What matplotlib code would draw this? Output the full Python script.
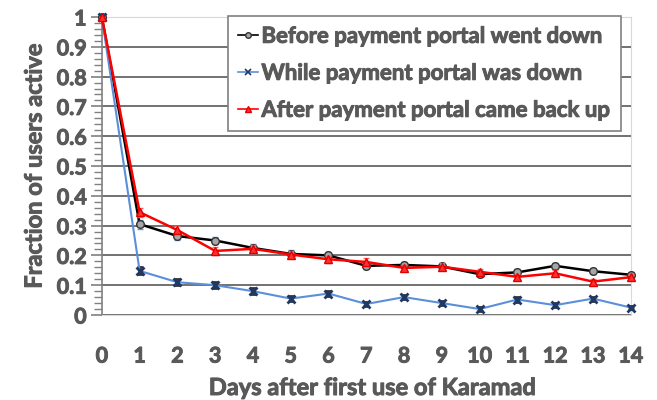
import numpy as np
import matplotlib.pyplot as plt
import matplotlib.patheffects as pe
from matplotlib.ticker import MultipleLocator, FuncFormatter
from matplotlib.lines import Line2D

plt.rcParams['font.family'] = ['Lato', 'DejaVu Sans']

days = list(range(15))
before = [1.0, 0.305, 0.265, 0.25, 0.225, 0.205, 0.2, 0.165, 0.168, 0.163, 0.137, 0.143, 0.165, 0.147, 0.135]
while_down = [1.0, 0.148, 0.11, 0.1, 0.08, 0.055, 0.072, 0.037, 0.06, 0.04, 0.02, 0.052, 0.033, 0.055, 0.025]
after = [1.0, 0.345, 0.285, 0.215, 0.222, 0.203, 0.187, 0.178, 0.158, 0.162, 0.145, 0.128, 0.14, 0.112, 0.127]
err_before = [0.0, 0.015, 0.013, 0.013, 0.012, 0.012, 0.012, 0.011, 0.011, 0.011, 0.01, 0.01, 0.01, 0.01, 0.01]
err_while = [0.0, 0.012, 0.011, 0.01, 0.009, 0.008, 0.008, 0.007, 0.007, 0.007, 0.006, 0.007, 0.006, 0.007, 0.006]
err_after = [0.0, 0.015, 0.014, 0.013, 0.013, 0.012, 0.012, 0.012, 0.011, 0.011, 0.011, 0.01, 0.01, 0.01, 0.01]
labels = ['Before payment portal went down', 'While payment portal was down',
          'After payment portal came back up']

txt = '#595959'
thick = [pe.withStroke(linewidth=0.7, foreground=txt)]

fig = plt.figure(figsize=(6.57, 4.0), dpi=100)
ax = fig.add_axes([0.155, 0.2125, 0.805, 0.745])

ax.errorbar(days, before, yerr=err_before, color='black', lw=1.8, marker='o', ms=5.5,
            mfc='#a6a6a6', mec='#333333', ecolor='#5b9bd5', elinewidth=1, capsize=2,
            clip_on=False, zorder=3)
ax.errorbar(days, while_down, yerr=err_while, color='#5b8fd9', lw=1.5, marker='x', ms=5.5,
            mec='#1f3864', mew=2, ecolor='#333333', elinewidth=1, capsize=2,
            clip_on=False, zorder=3)
ax.errorbar(days, after, yerr=err_after, color='#ff0000', lw=1.8, marker='^', ms=5.5,
            mfc='#ff3030', mec='#e00000', ecolor='#ff6060', elinewidth=1, capsize=2,
            clip_on=False, zorder=4)

ax.set_xlim(0, 14)
ax.set_ylim(0, 1)
ax.set_xticks(days)
ax.yaxis.set_major_locator(MultipleLocator(0.1))
ax.yaxis.set_minor_locator(MultipleLocator(0.02))
ax.yaxis.set_major_formatter(FuncFormatter(lambda v, p: '%g' % round(v, 1)))
ax.grid(axis='y', which='major', color='#595959', lw=1.2)
ax.set_axisbelow(True)

for s in ['top', 'right', 'bottom']:
    ax.spines[s].set_color('#d9d9d9')
ax.spines['left'].set_color('#808080')
ax.spines['left'].set_linewidth(1.2)

ax.tick_params(axis='x', length=0, pad=22, labelsize=15.5, labelcolor=txt)
ax.tick_params(axis='y', which='major', length=8, width=1.2, color='#808080', labelsize=15.5, labelcolor=txt, pad=3)
ax.tick_params(axis='y', which='minor', length=6, width=1, color='#808080')
for t in ax.get_xticklabels() + ax.get_yticklabels():
    t.set_fontweight('bold')
    t.set_path_effects(thick)

fig.text(0.567, 0.0125, 'Days after first use of Karamad', fontsize=17, fontweight='bold',
         color=txt, ha='center', va='baseline', path_effects=thick)
ax.set_ylabel('Fraction of users active', fontsize=17, fontweight='bold', color=txt,
              labelpad=8, path_effects=thick)

handles = [
    Line2D([], [], color='black', lw=1.2, marker='o', ms=4, mfc='#a6a6a6', mec='#333333'),
    Line2D([], [], color='#5b8fd9', lw=1.2, marker='x', ms=4, mec='#1f3864', mew=1.2),
    Line2D([], [], color='#ff0000', lw=1.2, marker='^', ms=4, mfc='#ff3030', mec='#e00000'),
]
leg = ax.legend(handles, labels, loc='upper right', bbox_to_anchor=(0.981, 1.004), frameon=True,
                fancybox=False, edgecolor='#808080', handlelength=0.9, handletextpad=0.15,
                borderpad=0.45, labelspacing=0.72, borderaxespad=0,
                prop={'weight': 'bold', 'size': 16})
leg.get_frame().set_linewidth(1.2)
leg.get_frame().set_alpha(1)
for t in leg.get_texts():
    t.set_color(txt)
    t.set_path_effects(thick)

fig.savefig('out.png', dpi=100)
